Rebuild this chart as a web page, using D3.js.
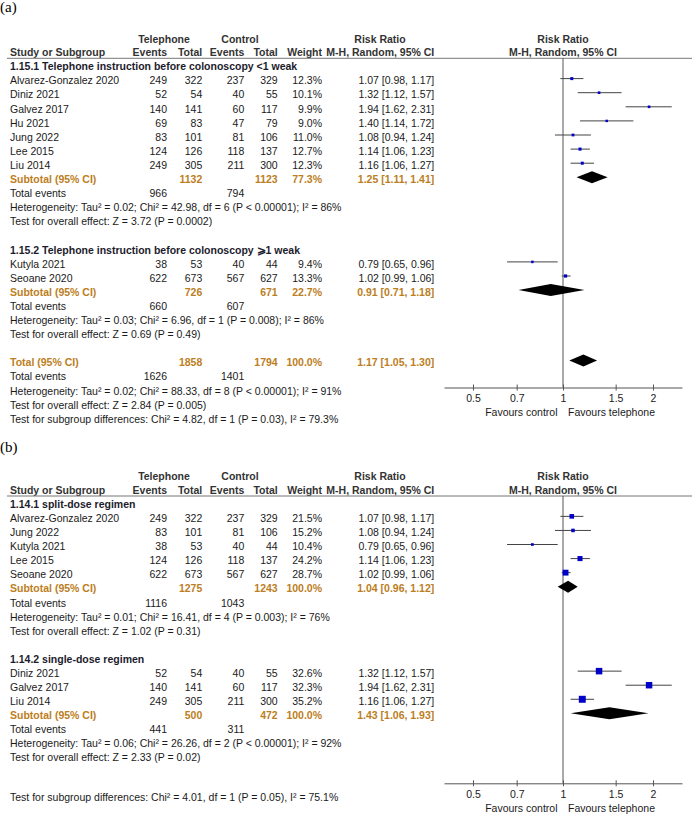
<!DOCTYPE html>
<html>
<head>
<meta charset="utf-8">
<script src="https://cdn.jsdelivr.net/npm/d3@7"></script>
<style>
  html, body { margin: 0; padding: 0; background: #fff; }
  svg { display: block; }
</style>
</head>
<body>
<svg id="chart" width="692" height="818"></svg>
<script>
// ---------------- DATA ----------------
// Panel (a): subgroup 1.15.1
const a1Title = "1.15.1 Telephone instruction before colonoscopy <1 weak";
const a1Studies = [
  { study: "Alvarez-Gonzalez 2020", e1: 249, n1: 322, e2: 237, n2: 329, w: 12.3, rr: 1.07, lo: 0.98, hi: 1.17 },
  { study: "Diniz 2021",            e1: 52,  n1: 54,  e2: 40,  n2: 55,  w: 10.1, rr: 1.32, lo: 1.12, hi: 1.57 },
  { study: "Galvez 2017",           e1: 140, n1: 141, e2: 60,  n2: 117, w: 9.9,  rr: 1.94, lo: 1.62, hi: 2.31 },
  { study: "Hu 2021",               e1: 69,  n1: 83,  e2: 47,  n2: 79,  w: 9.0,  rr: 1.40, lo: 1.14, hi: 1.72 },
  { study: "Jung 2022",             e1: 83,  n1: 101, e2: 81,  n2: 106, w: 11.0, rr: 1.08, lo: 0.94, hi: 1.24 },
  { study: "Lee 2015",              e1: 124, n1: 126, e2: 118, n2: 137, w: 12.7, rr: 1.14, lo: 1.06, hi: 1.23 },
  { study: "Liu 2014",              e1: 249, n1: 305, e2: 211, n2: 300, w: 12.3, rr: 1.16, lo: 1.06, hi: 1.27 }
];
const a1Subtotal = { n1: 1132, n2: 1123, w: 77.3, rr: 1.25, lo: 1.11, hi: 1.41, ev1: 966, ev2: 794,
  het: "Heterogeneity: Tau\u00B2 = 0.02; Chi\u00B2 = 42.98, df = 6 (P < 0.00001); I\u00B2 = 86%",
  test: "Test for overall effect: Z = 3.72 (P = 0.0002)" };

// Panel (a): subgroup 1.15.2
const a2Title = "1.15.2 Telephone instruction before colonoscopy \u2A7E1 weak";
const a2Studies = [
  { study: "Kutyla 2021", e1: 38,  n1: 53,  e2: 40,  n2: 44,  w: 9.4,  rr: 0.79, lo: 0.65, hi: 0.96 },
  { study: "Seoane 2020", e1: 622, n1: 673, e2: 567, n2: 627, w: 13.3, rr: 1.02, lo: 0.99, hi: 1.06 }
];
const a2Subtotal = { n1: 726, n2: 671, w: 22.7, rr: 0.91, lo: 0.71, hi: 1.18, ev1: 660, ev2: 607,
  het: "Heterogeneity: Tau\u00B2 = 0.03; Chi\u00B2 = 6.96, df = 1 (P = 0.008); I\u00B2 = 86%",
  test: "Test for overall effect: Z = 0.69 (P = 0.49)" };

// Panel (a): overall
const aTotal = { n1: 1858, n2: 1794, w: 100.0, rr: 1.17, lo: 1.05, hi: 1.30, ev1: 1626, ev2: 1401,
  het: "Heterogeneity: Tau\u00B2 = 0.02; Chi\u00B2 = 88.33, df = 8 (P < 0.00001); I\u00B2 = 91%",
  test: "Test for overall effect: Z = 2.84 (P = 0.005)" };
const aSubgroupTest = "Test for subgroup differences: Chi\u00B2 = 4.82, df = 1 (P = 0.03), I\u00B2 = 79.3%";

// Panel (b): subgroup 1.14.1
const b1Title = "1.14.1 split-dose regimen";
const b1Studies = [
  { study: "Alvarez-Gonzalez 2020", e1: 249, n1: 322, e2: 237, n2: 329, w: 21.5, rr: 1.07, lo: 0.98, hi: 1.17 },
  { study: "Jung 2022",             e1: 83,  n1: 101, e2: 81,  n2: 106, w: 15.2, rr: 1.08, lo: 0.94, hi: 1.24 },
  { study: "Kutyla 2021",           e1: 38,  n1: 53,  e2: 40,  n2: 44,  w: 10.4, rr: 0.79, lo: 0.65, hi: 0.96 },
  { study: "Lee 2015",              e1: 124, n1: 126, e2: 118, n2: 137, w: 24.2, rr: 1.14, lo: 1.06, hi: 1.23 },
  { study: "Seoane 2020",           e1: 622, n1: 673, e2: 567, n2: 627, w: 28.7, rr: 1.02, lo: 0.99, hi: 1.06 }
];
const b1Subtotal = { n1: 1275, n2: 1243, w: 100.0, rr: 1.04, lo: 0.96, hi: 1.12, ev1: 1116, ev2: 1043,
  het: "Heterogeneity: Tau\u00B2 = 0.01; Chi\u00B2 = 16.41, df = 4 (P = 0.003); I\u00B2 = 76%",
  test: "Test for overall effect: Z = 1.02 (P = 0.31)" };

// Panel (b): subgroup 1.14.2
const b2Title = "1.14.2 single-dose regimen";
const b2Studies = [
  { study: "Diniz 2021",  e1: 52,  n1: 54,  e2: 40,  n2: 55,  w: 32.6, rr: 1.32, lo: 1.12, hi: 1.57 },
  { study: "Galvez 2017", e1: 140, n1: 141, e2: 60,  n2: 117, w: 32.3, rr: 1.94, lo: 1.62, hi: 2.31 },
  { study: "Liu 2014",    e1: 249, n1: 305, e2: 211, n2: 300, w: 35.2, rr: 1.16, lo: 1.06, hi: 1.27 }
];
const b2Subtotal = { n1: 500, n2: 472, w: 100.0, rr: 1.43, lo: 1.06, hi: 1.93, ev1: 441, ev2: 311,
  het: "Heterogeneity: Tau\u00B2 = 0.06; Chi\u00B2 = 26.26, df = 2 (P < 0.00001); I\u00B2 = 92%",
  test: "Test for overall effect: Z = 2.33 (P = 0.02)" };
const bSubgroupTest = "Test for subgroup differences: Chi\u00B2 = 4.01, df = 1 (P = 0.05), I\u00B2 = 75.1%";

// Axis
const axisDomain = [0.4, 2.5];
const tickValues = [0.5, 0.7, 1, 1.5, 2];
const tickLabels = ["0.5", "0.7", "1", "1.5", "2"];
const favoursLeft = "Favours control";
const favoursRight = "Favours telephone";

// ---------------- DRAWING ----------------
const FONT = "'Liberation Sans', Arial, Helvetica, sans-serif";
const FS = 10.5;
const TXT = "#1a1a1a";
const HDR = "#333333";
const SUB = "#BC7E22";

const svg = d3.select("#chart");
svg.append("rect").attr("width", 692).attr("height", 818).attr("fill", "#fff");

const x = d3.scaleLog().domain(axisDomain).range([444, 682]);
const sq = d3.scaleLinear().domain([0, 100]).range([0.9, 18.1]);

const col = { study: 10, e1: 167, n1: 202.3, e2: 244.3, n2: 277.7, w: 322, rr: 434.3 };
const fmtRR = (r, l, h) => `${r.toFixed(2)} [${l.toFixed(2)}, ${h.toFixed(2)}]`;

function txt(g, s, xx, yy, opt = {}) {
  return g.append("text")
    .attr("x", xx).attr("y", yy).attr("dy", "0.36em")
    .attr("font-family", FONT).attr("font-size", opt.size || FS)
    .attr("font-weight", opt.bold ? "bold" : "normal")
    .attr("fill", opt.color || TXT)
    .attr("text-anchor", opt.anchor || "start")
    .text(s);
}

function diamond(g, d, y) {
  const h = 6;
  g.append("path")
    .attr("d", `M${x(d.lo)},${y} L${x(d.rr)},${y - h} L${x(d.hi)},${y} L${x(d.rr)},${y + h} Z`)
    .attr("fill", "#000");
}

function drawPanel(P) {
  const g = svg.append("g").attr("transform", `translate(0,${P.offset})`);
  g.append("text").attr("x", 0).attr("y", P.labelY)
    .attr("font-family", "'Liberation Serif', 'Times New Roman', serif")
    .attr("font-size", 15).attr("fill", "#000").text(P.label);

  // Headers
  txt(g, "Telephone", 164, 39, { bold: true, color: HDR, anchor: "middle" });
  txt(g, "Control", 240, 39, { bold: true, color: HDR, anchor: "middle" });
  txt(g, "Risk Ratio", 380, 39, { bold: true, color: HDR, anchor: "middle" });
  txt(g, "Risk Ratio", x(1), 39, { bold: true, color: HDR, anchor: "middle" });
  txt(g, "Study or Subgroup", col.study, 52.7, { bold: true, color: HDR });
  txt(g, "Events", col.e1, 52.7, { bold: true, color: HDR, anchor: "end" });
  txt(g, "Total", col.n1, 52.7, { bold: true, color: HDR, anchor: "end" });
  txt(g, "Events", col.e2, 52.7, { bold: true, color: HDR, anchor: "end" });
  txt(g, "Total", col.n2, 52.7, { bold: true, color: HDR, anchor: "end" });
  txt(g, "Weight", col.w, 52.7, { bold: true, color: HDR, anchor: "end" });
  txt(g, "M-H, Random, 95% CI", col.rr, 52.7, { bold: true, color: HDR, anchor: "end" });
  txt(g, "M-H, Random, 95% CI", x(1), 52.7, { bold: true, color: HDR, anchor: "middle" });
  g.append("line").attr("x1", 7).attr("x2", 692).attr("y1", 58.3).attr("y2", 58.3)
    .attr("stroke", "#777").attr("stroke-width", 1);

  // reference line
  g.append("line").attr("x1", x(1)).attr("x2", x(1)).attr("y1", 58.3).attr("y2", P.axisY)
    .attr("stroke", "#555").attr("stroke-width", 1);

  const rowY = i => P.y0 + i * P.step;
  const markOff = -2;
  let r = 0;

  function summaryRows(S, label) {
    const y = rowY(r);
    txt(g, label, col.study, y, { bold: true, color: SUB });
    txt(g, S.n1, col.n1, y, { bold: true, color: SUB, anchor: "end" });
    txt(g, S.n2, col.n2, y, { bold: true, color: SUB, anchor: "end" });
    txt(g, S.w.toFixed(1) + "%", col.w, y, { bold: true, color: SUB, anchor: "end" });
    txt(g, fmtRR(S.rr, S.lo, S.hi), col.rr, y, { bold: true, color: SUB, anchor: "end" });
    diamond(g, S, y + markOff);
    r++;
    const y2 = rowY(r);
    txt(g, "Total events", col.study, y2);
    txt(g, S.ev1, col.e1, y2, { anchor: "end" });
    txt(g, S.ev2, col.e2, y2, { anchor: "end" });
    r++;
    txt(g, S.het, col.study, rowY(r)); r++;
    txt(g, S.test, col.study, rowY(r)); r++;
  }

  P.groups.forEach(grp => {
    txt(g, grp.title, col.study, rowY(r), { bold: true, color: "#1c1c2c" });
    r++;
    grp.studies.forEach(s => {
      const y = rowY(r);
      txt(g, s.study, col.study, y);
      txt(g, s.e1, col.e1, y, { anchor: "end" });
      txt(g, s.n1, col.n1, y, { anchor: "end" });
      txt(g, s.e2, col.e2, y, { anchor: "end" });
      txt(g, s.n2, col.n2, y, { anchor: "end" });
      txt(g, s.w.toFixed(1) + "%", col.w, y, { anchor: "end" });
      txt(g, fmtRR(s.rr, s.lo, s.hi), col.rr, y, { anchor: "end" });
      const ym = y + markOff;
      g.append("line").attr("x1", x(s.lo)).attr("x2", x(s.hi)).attr("y1", ym).attr("y2", ym)
        .attr("stroke", "#444").attr("stroke-width", 1);
      const sz = sq(s.w);
      g.append("rect").attr("x", x(s.rr) - sz / 2).attr("y", ym - sz / 2)
        .attr("width", sz).attr("height", sz).attr("fill", "#0000C8");
      r++;
    });
    summaryRows(grp.subtotal, "Subtotal (95% CI)");
    r++; // blank row
  });

  if (P.total) summaryRows(P.total, "Total (95% CI)");
  txt(g, P.subTest, col.study, P.subTestY);

  // axis
  const axis = d3.axisBottom(x).tickValues(tickValues)
    .tickFormat((d, i) => tickLabels[i]).tickSizeInner(3).tickSizeOuter(0).tickPadding(3.8);
  const ag = g.append("g").attr("transform", `translate(0,${P.axisY})`).call(axis);
  ag.select(".domain").attr("stroke", "#555");
  ag.selectAll(".tick line").attr("y1", -3).attr("y2", 3).attr("stroke", "#555");
  ag.selectAll(".tick text").attr("font-family", FONT).attr("font-size", FS).attr("fill", TXT);

  txt(g, favoursLeft, x(1) - 5.5, P.axisY + 24.5, { anchor: "end" });
  txt(g, favoursRight, x(1) + 5, P.axisY + 24.5);
}

drawPanel({
  label: "(a)", labelY: 12, offset: 0, y0: 66.5, step: 14.1,
  groups: [
    { title: a1Title, studies: a1Studies, subtotal: a1Subtotal },
    { title: a2Title, studies: a2Studies, subtotal: a2Subtotal }
  ],
  total: aTotal, subTest: aSubgroupTest, subTestY: 419, axisY: 387.5
});

drawPanel({
  label: "(b)", labelY: 14.3, offset: 437.7, y0: 66.6, step: 14.07,
  groups: [
    { title: b1Title, studies: b1Studies, subtotal: b1Subtotal },
    { title: b2Title, studies: b2Studies, subtotal: b2Subtotal }
  ],
  total: null, subTest: bSubgroupTest, subTestY: 360, axisY: 345.6
});
</script>
</body>
</html>
